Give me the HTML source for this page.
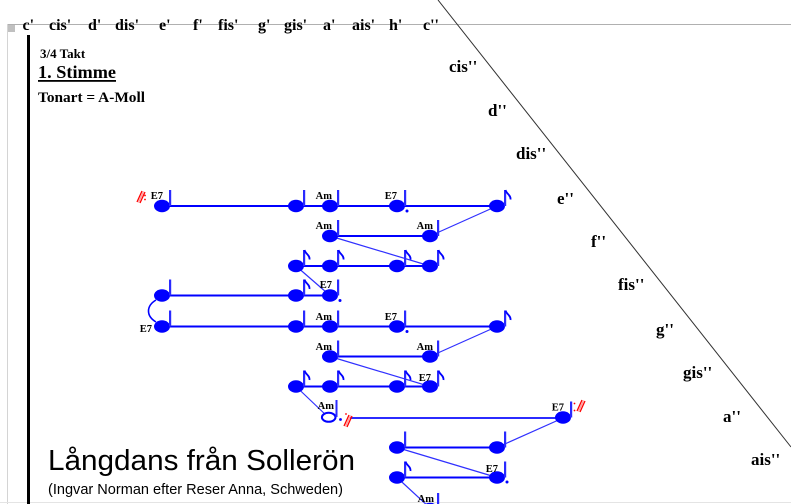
<!DOCTYPE html>
<html>
<head>
<meta charset="utf-8">
<style>
html,body{margin:0;padding:0;background:#fff;}
svg{display:block;}
.h{font-family:"Liberation Serif",serif;font-weight:bold;font-size:16px;fill:#000;}
.r{font-family:"Liberation Serif",serif;font-weight:bold;font-size:17px;fill:#000;}
.c{font-family:"Liberation Serif",serif;font-weight:bold;font-size:10.5px;fill:#000;text-anchor:end;}
</style>
</head>
<body>
<svg width="791" height="504" viewBox="0 0 791 504" xmlns="http://www.w3.org/2000/svg">
<defs>
  <g id="n">
    <ellipse cx="0" cy="0" rx="8" ry="6.2" fill="#0000ff"/>
    <rect x="7" y="-16" width="2.2" height="16" fill="#2a2aff"/>
  </g>
  <path id="f" d="M8.5,-16 C9.5,-12 14,-11 13.5,-6.5" stroke="#0000ff" stroke-width="1.8" fill="none"/>
  <g id="rep">
    <line x1="0" y1="10" x2="5" y2="-1" stroke="#ff0000" stroke-width="1.3"/>
    <line x1="3" y1="11" x2="8" y2="0" stroke="#ff0000" stroke-width="1.3"/>
    <line x1="1.5" y1="10.5" x2="6.5" y2="-0.5" stroke="#ff9a9a" stroke-width="1.3"/>
  </g>
</defs>
<rect width="791" height="504" fill="#fff"/>

<!-- frame -->
<line x1="7" y1="24.5" x2="791" y2="24.5" stroke="#b0b0b0" stroke-width="1"/>
<line x1="7.5" y1="24" x2="7.5" y2="504" stroke="#d4d4d4" stroke-width="1"/>
<rect x="8" y="25" width="7" height="7" fill="#c0c0c0"/>
<line x1="0" y1="502.5" x2="791" y2="502.5" stroke="#e4e4e4" stroke-width="1"/>
<rect x="27" y="35" width="3" height="469" fill="#000"/>
<line x1="438" y1="0" x2="791" y2="447" stroke="#303030" stroke-width="1"/>

<!-- header notes -->
<text class="h" x="22.5" y="30">c'</text>
<text class="h" x="49" y="30">cis'</text>
<text class="h" x="88" y="30">d'</text>
<text class="h" x="115" y="30">dis'</text>
<text class="h" x="159" y="30">e'</text>
<text class="h" x="193" y="30">f'</text>
<text class="h" x="218" y="30">fis'</text>
<text class="h" x="258" y="30">g'</text>
<text class="h" x="284" y="30">gis'</text>
<text class="h" x="323" y="30">a'</text>
<text class="h" x="352" y="30">ais'</text>
<text class="h" x="389" y="30">h'</text>
<text class="h" x="423" y="30">c''</text>

<!-- right diagonal labels -->
<text class="r" x="449" y="72">cis''</text>
<text class="r" x="488" y="116">d''</text>
<text class="r" x="516" y="159">dis''</text>
<text class="r" x="557" y="204">e''</text>
<text class="r" x="591" y="247">f''</text>
<text class="r" x="618" y="290">fis''</text>
<text class="r" x="656" y="335">g''</text>
<text class="r" x="683" y="378">gis''</text>
<text class="r" x="723" y="422">a''</text>
<text class="r" x="751" y="465">ais''</text>

<!-- left texts -->
<text x="40" y="58" font-family="Liberation Serif, serif" font-weight="bold" font-size="13px">3/4 Takt</text>
<text x="38" y="78" font-family="Liberation Serif, serif" font-weight="bold" font-size="18px" textLength="78" lengthAdjust="spacingAndGlyphs">1. Stimme</text>
<rect x="38" y="80" width="78" height="1.8" fill="#000"/>
<text x="38" y="102" font-family="Liberation Serif, serif" font-weight="bold" font-size="15px" textLength="107" lengthAdjust="spacingAndGlyphs">Tonart = A-Moll</text>

<text x="48" y="470" font-family="Liberation Sans, Arial, sans-serif" font-size="29px" textLength="307" lengthAdjust="spacingAndGlyphs">Långdans från Sollerön</text>
<text x="48" y="494" font-family="Liberation Sans, Arial, sans-serif" font-size="15px" textLength="295" lengthAdjust="spacingAndGlyphs">(Ingvar Norman efter Reser Anna, Schweden)</text>

<!-- horizontal connectors -->
<g stroke="#0000ff" stroke-width="2">
  <line x1="162" y1="206" x2="497" y2="206"/>
  <line x1="330" y1="236" x2="430" y2="236"/>
  <line x1="296" y1="266" x2="430" y2="266"/>
  <line x1="162" y1="295.5" x2="330" y2="295.5"/>
  <line x1="162" y1="326.5" x2="497" y2="326.5"/>
  <line x1="330" y1="356.5" x2="430" y2="356.5"/>
  <line x1="296" y1="386.5" x2="430" y2="386.5"/>
  <line x1="397" y1="447.5" x2="497" y2="447.5"/>
  <line x1="397" y1="477.5" x2="497" y2="477.5"/>
</g>
<line x1="350" y1="418" x2="563" y2="418" stroke="#2b2bff" stroke-width="2"/>

<!-- diagonal connectors -->
<g stroke="#3030ff" stroke-width="1.2">
  <line x1="430" y1="236" x2="497" y2="206"/>
  <line x1="330" y1="236" x2="430" y2="266"/>
  <line x1="296" y1="266" x2="330" y2="295.5"/>
  <line x1="430" y1="356.5" x2="497" y2="326.5"/>
  <line x1="330" y1="356.5" x2="430" y2="386.5"/>
  <line x1="296" y1="386.5" x2="328" y2="417"/>
  <line x1="497" y1="447.5" x2="563" y2="418"/>
  <line x1="397" y1="447.5" x2="497" y2="477.5"/>
  <line x1="397" y1="477.5" x2="430" y2="508"/>
</g>

<!-- tie -->
<path d="M156,300 C146,306 146,316 156,322" stroke="#0000ff" stroke-width="1.6" fill="none"/>

<!-- Row 1 -->
<use href="#n" x="162" y="206"/>
<use href="#n" x="296" y="206"/>
<use href="#n" x="330" y="206"/>
<use href="#n" x="397" y="206"/>
<use href="#n" x="497" y="206"/><use href="#f" x="497" y="206"/>
<circle cx="407" cy="211" r="1.5" fill="#0000ff"/>
<text class="c" x="163" y="199">E7</text>
<text class="c" x="332" y="199">Am</text>
<text class="c" x="397" y="199">E7</text>

<!-- Row 2 -->
<use href="#n" x="330" y="236"/>
<use href="#n" x="430" y="236"/>
<text class="c" x="332" y="229">Am</text>
<text class="c" x="433" y="229">Am</text>

<!-- Row 3 -->
<use href="#n" x="296" y="266"/><use href="#f" x="296" y="266"/>
<use href="#n" x="330" y="266"/><use href="#f" x="330" y="266"/>
<use href="#n" x="397" y="266"/><use href="#f" x="397" y="266"/>
<use href="#n" x="430" y="266"/><use href="#f" x="430" y="266"/>

<!-- Row 4 -->
<use href="#n" x="162" y="295.5"/>
<use href="#n" x="296" y="295.5"/><use href="#f" x="296" y="295.5"/>
<use href="#n" x="330" y="295.5"/>
<circle cx="340" cy="300.5" r="1.5" fill="#0000ff"/>
<text class="c" x="332" y="288">E7</text>

<!-- Row 5 -->
<use href="#n" x="162" y="326.5"/>
<use href="#n" x="296" y="326.5"/>
<use href="#n" x="330" y="326.5"/>
<use href="#n" x="397" y="326.5"/>
<use href="#n" x="497" y="326.5"/><use href="#f" x="497" y="326.5"/>
<circle cx="407" cy="331.5" r="1.5" fill="#0000ff"/>
<text class="c" x="152" y="332">E7</text>
<text class="c" x="332" y="320">Am</text>
<text class="c" x="397" y="320">E7</text>

<!-- Row 6 -->
<use href="#n" x="330" y="356.5"/>
<use href="#n" x="430" y="356.5"/>
<text class="c" x="332" y="350">Am</text>
<text class="c" x="433" y="350">Am</text>

<!-- Row 7 -->
<use href="#n" x="296" y="386.5"/><use href="#f" x="296" y="386.5"/>
<use href="#n" x="330" y="386.5"/><use href="#f" x="330" y="386.5"/>
<use href="#n" x="397" y="386.5"/><use href="#f" x="397" y="386.5"/>
<use href="#n" x="430" y="386.5"/><use href="#f" x="430" y="386.5"/>
<text class="c" x="431" y="381">E7</text>

<!-- Row 8 -->
<ellipse cx="328.7" cy="417.3" rx="6.8" ry="4.5" fill="#fff" stroke="#0000ff" stroke-width="2"/>
<rect x="335.5" y="400" width="2" height="17" fill="#2a2aff"/>
<circle cx="340.5" cy="419.5" r="1.4" fill="#0000ff"/>
<text class="c" x="334" y="409">Am</text>
<use href="#rep" x="344" y="416"/>
<circle cx="346" cy="414" r="0.9" fill="#ff0000"/>
<use href="#n" x="563" y="417.5"/>
<text class="c" x="564" y="410.5">E7</text>
<use href="#rep" x="577" y="401"/>
<circle cx="574.5" cy="403.5" r="0.9" fill="#ff0000"/>
<circle cx="574.5" cy="410.5" r="0.9" fill="#ff0000"/>

<!-- left repeat -->
<use href="#rep" x="137" y="192"/>
<circle cx="145" cy="195.5" r="0.9" fill="#ff0000"/>
<circle cx="145" cy="199.5" r="0.9" fill="#ff0000"/>

<!-- Row 9 -->
<use href="#n" x="397" y="447.5"/>
<use href="#n" x="497" y="447.5"/>

<!-- Row 10 -->
<use href="#n" x="397" y="477.5"/><use href="#f" x="397" y="477.5"/>
<use href="#n" x="497" y="477.5"/>
<circle cx="507" cy="482" r="1.5" fill="#0000ff"/>
<text class="c" x="498" y="472">E7</text>

<!-- Row 11 (partial) -->
<use href="#n" x="430" y="509"/>
<text class="c" x="434" y="502">Am</text>
</svg>
</body>
</html>
